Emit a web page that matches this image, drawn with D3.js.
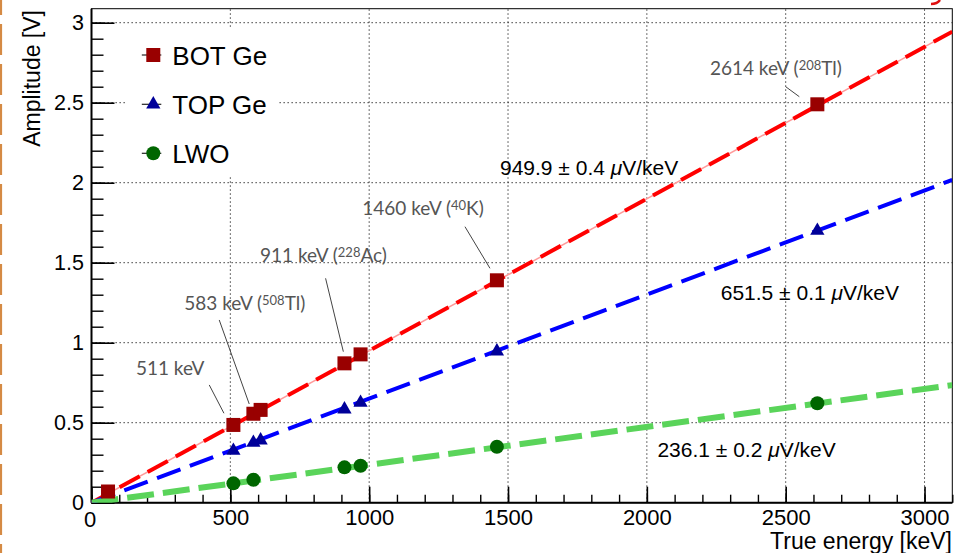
<!DOCTYPE html>
<html>
<head>
<meta charset="utf-8">
<script src="https://cdn.jsdelivr.net/npm/d3@7"></script>
<style>
  body { margin: 0; background: #fff; }
  svg { display: block; }
  text { font-family: "Liberation Sans", Arial, sans-serif; }
</style>
</head>
<body>
<div id="chart"></div>
<script>
// calibration points
const energiesBOT = [59.5, 511, 583, 609, 911, 969, 1460, 2614];
const ampBOT = [0.07, 0.486, 0.556, 0.58, 0.871, 0.927, 1.39, 2.49];
const energiesTOP = [511, 583, 609, 911, 969, 1460, 2614];
const ampTOP = [0.325, 0.375, 0.39, 0.584, 0.625, 0.946, 1.70];
const energiesLWO = [511, 583, 911, 969, 1460, 2614];
const ampLWO = [0.121, 0.143, 0.221, 0.231, 0.35, 0.622];

// fitted lines (end points at the axis range)
const fitEnergy = [0, 3100];
const fitBOT = [0, 2.944];
const fitTOP = [0, 2.017];
const fitLWO = [0, 0.735];

const seriesNames = ['BOT Ge', 'TOP Ge', 'LWO'];
const fitLabels = ['949.9 ± 0.4 ', '651.5 ± 0.1 ', '236.1 ± 0.2 '];
const xTicks = [0, 500, 1000, 1500, 2000, 2500, 3000];
const yTicks = [0, 0.5, 1, 1.5, 2, 2.5, 3];

// peak annotations: text parts [before, superscript, after]
const peakText = [
  ['511 keV', '', ''],
  ['583 keV (', '508', 'Tl)'],
  ['911 keV (', '228', 'Ac)'],
  ['1460 keV (', '40', 'K)'],
  ['2614 keV (', '208', 'Tl)']
];

const W = 955, H = 553;
const margin = {left: 91.5, right: 2.7, top: 8.7, bottom: 50.3};

const x = d3.scaleLinear().domain([0, 3100]).range([margin.left, W - margin.right]);
const y = d3.scaleLinear().domain([0, 3.0875]).range([H - margin.bottom, margin.top]);

const svg = d3.select('#chart').append('svg')
    .attr('width', W)
    .attr('height', H);

svg.append('rect').attr('width', W).attr('height', H).attr('fill', '#fff');

// slide leftovers: orange dashed edge and a red stroke cut at the top
svg.append('line')
    .attr('x1', 1).attr('x2', 1).attr('y1', 0).attr('y2', H)
    .attr('stroke', '#d58a44').attr('stroke-width', 2.2)
    .attr('stroke-dasharray', '31,9').attr('stroke-dashoffset', 16);
svg.append('path')
    .attr('d', 'M940,0 Q937,4 931,4')
    .attr('fill', 'none').attr('stroke', '#e01010').attr('stroke-width', 2.5);

svg.append('clipPath').attr('id', 'plotclip')
  .append('rect')
    .attr('x', x(0)).attr('y', y(3.0875))
    .attr('width', x(3100) - x(0)).attr('height', y(0) - y(3.0875));

// grid
const grid = svg.append('g').attr('stroke', '#222').attr('stroke-width', 1)
    .attr('stroke-dasharray', '1.3,2.7');
grid.selectAll('line.gx').data(xTicks.filter(d => d > 0)).enter().append('line')
    .attr('x1', d => x(d)).attr('x2', d => x(d))
    .attr('y1', y(0)).attr('y2', y(3.0875));
grid.selectAll('line.gy').data(yTicks.filter(d => d > 0)).enter().append('line')
    .attr('y1', d => y(d)).attr('y2', d => y(d))
    .attr('x1', x(0)).attr('x2', x(3100));

// axes (ticks inside the frame, ROOT style)
const xMinor = d3.range(0, 3101, 100);
const yMinor = d3.range(0, 3.05, 0.1);

svg.append('g')
    .attr('transform', `translate(0,${y(0)})`)
    .call(d3.axisBottom(x).tickValues(xMinor).tickSize(-8).tickFormat(''))
    .call(g => g.select('.domain').remove())
    .call(g => g.selectAll('line').attr('stroke', '#000').attr('stroke-width', 1.4));

svg.append('g')
    .attr('transform', `translate(0,${y(0)})`)
    .call(d3.axisBottom(x).tickValues(xTicks).tickSize(-16).tickPadding(6.5).tickFormat(d3.format('d')))
    .call(g => g.select('.domain').remove())
    .call(g => g.selectAll('line').attr('stroke', '#000').attr('stroke-width', 1.6))
    .call(g => g.selectAll('text').attr('fill', '#000')
        .style('font-family', '"Liberation Sans", Arial, sans-serif').style('font-size', '22px'))
    .call(g => g.selectAll('.tick').filter(d => d === 0).select('text').attr('x', -2).attr('y', 8.5));

svg.append('g')
    .attr('transform', `translate(0,${y(0)})`)
    .call(g => g.selectAll('.tick').remove());

svg.append('g')
    .attr('transform', `translate(${x(0)},0)`)
    .call(d3.axisLeft(y).tickValues(yMinor).tickSize(-12).tickFormat(''))
    .call(g => g.select('.domain').remove())
    .call(g => g.selectAll('line').attr('stroke', '#000').attr('stroke-width', 1.4));

svg.append('g')
    .attr('transform', `translate(${x(0)},0)`)
    .call(d3.axisLeft(y).tickValues(yTicks).tickSize(-23).tickPadding(7.5).tickFormat(d3.format('')))
    .call(g => g.select('.domain').remove())
    .call(g => g.selectAll('line').attr('stroke', '#000').attr('stroke-width', 1.6))
    .call(g => g.selectAll('text').attr('fill', '#000')
        .style('font-family', '"Liberation Sans", Arial, sans-serif').style('font-size', '21.5px'));

// frame
svg.append('rect')
    .attr('x', x(0)).attr('y', y(3.0875))
    .attr('width', x(3100) - x(0)).attr('height', y(0) - y(3.0875))
    .attr('fill', 'none').attr('stroke', '#000').attr('stroke-width', 1);
svg.append('line').attr('x1', x(0)).attr('x2', x(0)).attr('y1', y(0)).attr('y2', y(3.0875))
    .attr('stroke', '#000').attr('stroke-width', 2);
svg.append('line').attr('x1', x(0)).attr('x2', x(3100)).attr('y1', y(0)).attr('y2', y(0))
    .attr('stroke', '#000').attr('stroke-width', 2);

// axis titles
svg.append('text')
    .attr('transform', 'translate(40,10) rotate(-90)')
    .attr('text-anchor', 'end')
    .style('font-size', '23px')
    .text('Amplitude [V]');
svg.append('text')
    .attr('x', 952).attr('y', 549)
    .attr('text-anchor', 'end')
    .style('font-size', '23px')
    .text('True energy [keV]');

// legend box hides the grid behind it
svg.append('rect')
    .attr('x', 125).attr('y', 28).attr('width', 153).attr('height', 148)
    .attr('fill', '#fff');

// fit lines
const plot = svg.append('g').attr('clip-path', 'url(#plotclip)');
const fitLine = d3.line().x(d => x(d[0])).y(d => y(d[1]));

plot.append('path')
    .datum(d3.zip(fitEnergy, fitBOT))
    .attr('d', fitLine)
    .attr('fill', 'none').attr('stroke', '#ff9a9a').attr('stroke-width', 1.5);
plot.append('path')
    .datum(d3.zip(fitEnergy, fitBOT))
    .attr('d', fitLine)
    .attr('fill', 'none').attr('stroke', '#ff0000').attr('stroke-width', 4)
    .attr('stroke-dasharray', '23,9');
plot.append('path')
    .datum(d3.zip(fitEnergy, fitTOP))
    .attr('d', fitLine)
    .attr('fill', 'none').attr('stroke', '#0000ff').attr('stroke-width', 4)
    .attr('stroke-dasharray', '25,10');
plot.append('path')
    .datum(d3.zip(fitEnergy, fitLWO))
    .attr('d', fitLine)
    .attr('fill', 'none').attr('stroke', '#5ad45a').attr('stroke-width', 6)
    .attr('stroke-dasharray', '27,9');

// markers
const sq = 14;
plot.selectAll('rect.bot').data(d3.zip(energiesBOT, ampBOT)).enter().append('rect')
    .attr('class', 'bot')
    .attr('x', d => x(d[0]) - sq / 2).attr('y', d => y(d[1]) - sq / 2)
    .attr('width', sq).attr('height', sq)
    .attr('fill', '#990000');

const tri = d3.symbol().type(d3.symbolTriangle).size(88);
plot.selectAll('path.top').data(d3.zip(energiesTOP, ampTOP)).enter().append('path')
    .attr('class', 'top')
    .attr('transform', d => `translate(${x(d[0])},${y(d[1])})`)
    .attr('d', tri)
    .attr('fill', '#000099');

plot.selectAll('circle.lwo').data(d3.zip(energiesLWO, ampLWO)).enter().append('circle')
    .attr('class', 'lwo')
    .attr('cx', d => x(d[0])).attr('cy', d => y(d[1]))
    .attr('r', 7)
    .attr('fill', '#006600');

// legend
const legendY = [55, 104.3, 153.3];
const legend = svg.append('g');
seriesNames.forEach((name, i) => {
  const g = legend.append('g').attr('transform', `translate(153.3,${legendY[i]})`);
  g.append('line').attr('x1', -11.5).attr('x2', 8).attr('stroke', '#222').attr('stroke-width', 1.2);
  if (i === 0) {
    g.append('rect').attr('x', -7).attr('y', -7).attr('width', 14).attr('height', 14).attr('fill', '#990000');
  } else if (i === 1) {
    g.append('path').attr('d', tri).attr('fill', '#000099');
  } else {
    g.append('circle').attr('r', 7).attr('fill', '#006600');
  }
  g.append('text')
      .attr('x', 19).attr('y', 9.5)
      .style('font-size', '26px')
      .text(name);
});

// fit labels
const fitLabelPos = [[1471, 2.048], [2266, 1.267], [2038, 0.284]];
fitLabels.forEach((t, i) => {
  const txt = svg.append('text')
      .attr('x', x(fitLabelPos[i][0])).attr('y', y(fitLabelPos[i][1]))
      .style('font-size', '21px');
  txt.append('tspan').text(t);
  txt.append('tspan').style('font-style', 'italic').text('μ');
  txt.append('tspan').text('V/keV');
});

// peak annotations
const peakPos = [[160, 0.798], [334, 1.204], [607, 1.506], [975, 1.798], [2227, 2.673]];
const leaders = [
  [[424, 0.736], [477, 0.559]],
  [[460, 1.142], [568, 0.617]],
  [[843, 1.4025], [907, 0.944]],
  [[1345, 1.725], [1435, 1.465]],
  [[2500, 2.6], [2549, 2.5375]]
];
leaders.forEach(l => {
  svg.append('line')
      .attr('x1', x(l[0][0])).attr('y1', y(l[0][1]))
      .attr('x2', x(l[1][0])).attr('y2', y(l[1][1]))
      .attr('stroke', '#444').attr('stroke-width', 1);
});
peakText.forEach((p, i) => {
  const txt = svg.append('text')
      .attr('x', x(peakPos[i][0])).attr('y', y(peakPos[i][1]))
      .attr('fill', '#555')
      .style('font-family', 'Lato, "Open Sans", sans-serif')
      .style('font-size', '19px');
  txt.append('tspan').text(p[0]);
  if (p[1]) {
    txt.append('tspan').attr('dy', -5).style('font-size', '13px').text(p[1]);
    txt.append('tspan').attr('dy', 5).text(p[2]);
  }
});
</script>
</body>
</html>
